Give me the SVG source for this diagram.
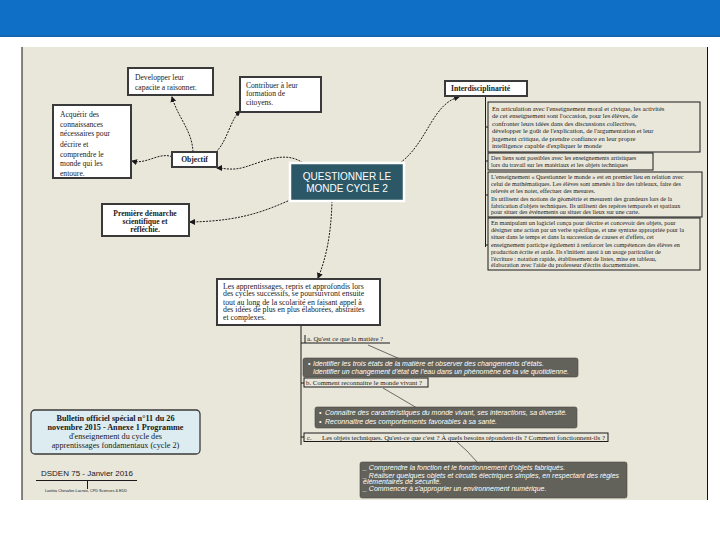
<svg xmlns="http://www.w3.org/2000/svg" width="720" height="540" viewBox="0 0 720 540">
<defs>
<marker id="arr" markerWidth="6" markerHeight="6" refX="5" refY="3" orient="auto" markerUnits="userSpaceOnUse"><path d="M0,0 L6,3 L0,6 z" fill="#1a1a1a"/></marker>
<style>
.box{fill:#fff;stroke:#3a3a3a;stroke-width:2}
.t{font-family:"Liberation Serif",serif;fill:#1a1a1a}
.b{font-weight:bold}
.rb{fill:none;stroke:#1a1a1a;stroke-width:1}
.gb{fill:#62625a;stroke:#4a4a44;stroke-width:0.6}
.gt{font-family:"Liberation Sans",sans-serif;font-style:italic;fill:#fff;font-size:7px}
.con{fill:none;stroke:#1a1a1a;stroke-width:1;stroke-dasharray:2 1.2;marker-end:url(#arr)}
.ln{fill:none;stroke:#1a1a1a;stroke-width:1}
.thin{fill:none;stroke:#333;stroke-width:0.7}
</style>
</defs>
<rect x="0" y="0" width="720" height="540" fill="#ffffff"/>
<rect x="0" y="0" width="720" height="36" fill="#0f6ec6"/>
<rect x="0" y="35" width="720" height="2" fill="#1466b0"/>
<rect x="22" y="47" width="686" height="453" fill="#e9e6da"/>
<line x1="22" y1="47" x2="22" y2="500" stroke="#111" stroke-width="1"/>
<line x1="707.5" y1="47" x2="707.5" y2="500" stroke="#111" stroke-width="1"/>

<g id="connectors">
<path class="con" d="M193,152 C192,130 178,118 172,97"/>
<path class="con" d="M216,152 C228,140 230,120 240,111"/>
<path class="con" d="M175,158 C160,150 148,165 132,161"/>
<path class="con" d="M303,163 C285,150 262,162 245,167 C232,171 224,168 217,168"/>
<path class="con" d="M400,163 C428,142 432,104 459,97"/>
<path class="con" d="M300,196 C272,207 250,221 190,222"/>
<path class="con" d="M332,201 C331,236 326,258 318,278"/>
<path class="ln" d="M485.5,97 V247"/>
<path class="ln" d="M485.5,127 H488 M485.5,161 H488 M485.5,195 H488 M485.5,245 H488"/>
<path class="ln" d="M301,325 V445 M301,343 H305 M301,383 H304 M301,437 H304"/>
<path class="thin" d="M368,345 L400,359"/>
<path class="thin" d="M383,388 L417,408"/>
<path class="thin" d="M457,442 L467,451 L477,462"/>
</g>

<g id="developper">
<rect class="box" x="128" y="68" width="85" height="27"/>
<text class="t" font-size="7.6" x="135" y="80">Developper leur</text>
<text class="t" font-size="7.6" x="135" y="89.5">capacite a raisonner.</text>
</g>

<g id="contribuer">
<rect class="box" x="240" y="77" width="81" height="35"/>
<text class="t" font-size="7.6" x="246" y="87.5">Contribuer à leur</text>
<text class="t" font-size="7.6" x="246" y="96">formation de</text>
<text class="t" font-size="7.6" x="246" y="104.5">citoyens.</text>
</g>

<g id="acquerir">
<rect class="box" x="53" y="105" width="78" height="73"/>
<text class="t" font-size="7.6" x="60" y="116.5">Acquérir des</text>
<text class="t" font-size="7.6" x="60" y="126.5">connaissances</text>
<text class="t" font-size="7.6" x="60" y="136">nécessaires pour</text>
<text class="t" font-size="7.6" x="60" y="146.5">décrire et</text>
<text class="t" font-size="7.6" x="60" y="156.5">comprendre le</text>
<text class="t" font-size="7.6" x="60" y="166">monde qui les</text>
<text class="t" font-size="7.6" x="60" y="175.5">entoure.</text>
</g>

<g id="objectif">
<rect class="box" x="172" y="152" width="45" height="15"/>
<text class="t b" font-size="7.6" x="194.5" y="162" text-anchor="middle">Objectif</text>
</g>

<g id="central">
<rect x="290" y="163" width="114" height="38" fill="#2b5766" stroke="#ffffff" stroke-width="2.5"/>
<text font-family="Liberation Sans, sans-serif" font-size="10" fill="#ffffff" x="347" y="180" text-anchor="middle">QUESTIONNER LE</text>
<text font-family="Liberation Sans, sans-serif" font-size="10" fill="#ffffff" x="347" y="192" text-anchor="middle">MONDE CYCLE 2</text>
</g>

<g id="premiere">
<rect class="box" x="102" y="204" width="87" height="32"/>
<text class="t b" font-size="7.6" x="145" y="215.5" text-anchor="middle">Première démarche</text>
<text class="t b" font-size="7.6" x="145" y="224" text-anchor="middle">scientifique et</text>
<text class="t b" font-size="7.6" x="145" y="232" text-anchor="middle">réfléchie.</text>
</g>

<g id="interdisciplinarite">
<rect class="box" x="445" y="81" width="82" height="15"/>
<text class="t b" font-size="7.6" x="451" y="91">Interdisciplinarité</text>
</g>

<g id="inter-box1">
<rect class="rb" x="488" y="102" width="212" height="50"/>
<text class="t" font-size="6.6" x="492" y="110.5">En articulation avec l'enseignement moral et civique, les activités</text>
<text class="t" font-size="6.6" x="492" y="118">de cet enseignement sont l'occasion, pour les élèves, de</text>
<text class="t" font-size="6.6" x="492" y="125.5">confronter leurs idées dans des discussions collectives,</text>
<text class="t" font-size="6.6" x="492" y="133">développer le goût de l'explication, de l'argumentation et leur</text>
<text class="t" font-size="6.6" x="492" y="140.5">jugement critique, de prendre confiance en leur propre</text>
<text class="t" font-size="6.6" x="492" y="148">intelligence capable d'expliquer le monde</text>
</g>

<g id="inter-box2">
<rect class="rb" x="488" y="153" width="165" height="17"/>
<text class="t" font-size="6.2" x="491" y="160">Des liens sont possibles avec les enseignements artistiques</text>
<text class="t" font-size="6.2" x="491" y="167">lors du travail sur les matériaux et les objets techniques</text>
</g>

<g id="inter-box3">
<rect class="rb" x="488" y="172" width="214" height="45"/>
<text class="t" font-size="6.2" x="491" y="179">L'enseignement « Questionner le monde » est en premier lieu en relation avec</text>
<text class="t" font-size="6.2" x="491" y="186">celui de mathématiques. Les élèves sont amenés à lire des tableaux, faire des</text>
<text class="t" font-size="6.2" x="491" y="193">relevés et les noter, effectuer des mesures.</text>
<text class="t" font-size="6.2" x="491" y="200.5">Ils utilisent des notions de géométrie et mesurent des grandeurs lors de la</text>
<text class="t" font-size="6.2" x="491" y="207.5">fabrication d'objets techniques. Ils utilisent des repères temporels et spatiaux</text>
<text class="t" font-size="6.2" x="491" y="214">pour situer des événements ou situer des lieux sur une carte.</text>
</g>

<g id="inter-box4">
<rect class="rb" x="488" y="218" width="212" height="52"/>
<text class="t" font-size="6.2" x="491" y="225">En manipulant un logiciel conçu pour décrire et concevoir des objets, pour</text>
<text class="t" font-size="6.2" x="491" y="232">désigner une action par un verbe spécifique, et une syntaxe appropriée pour la</text>
<text class="t" font-size="6.2" x="491" y="239">situer dans le temps et dans la succession de causes et d'effets, cet</text>
<text class="t" font-size="6.2" x="491" y="247">enseignement participe également à renforcer les compétences des élèves en</text>
<text class="t" font-size="6.2" x="491" y="254">production écrite et orale. Ils s'initient aussi à un usage particulier de</text>
<text class="t" font-size="6.2" x="491" y="260.5">l'écriture : notation rapide, établissement de listes, mise en tableau,</text>
<text class="t" font-size="6.2" x="491" y="267">élaboration avec l'aide du professeur d'écrits documentaires.</text>
</g>

<g id="apprentissages">
<rect class="box" x="217" y="279" width="163" height="46"/>
<text class="t" font-size="7.8" x="223" y="288.5">Les apprentissages, repris et approfondis lors</text>
<text class="t" font-size="7.8" x="223" y="296">des cycles successifs, se poursuivront ensuite</text>
<text class="t" font-size="7.8" x="223" y="304.5">tout au long de la scolarité en faisant appel à</text>
<text class="t" font-size="7.8" x="223" y="312">des idées de plus en plus élaborées, abstraites</text>
<text class="t" font-size="7.8" x="223" y="320">et complexes.</text>
</g>

<g id="label-a">
<path class="ln" d="M305,335 V343 H390"/>
<text class="t" font-size="6.8" x="307" y="340.5">a. Qu'est ce que la matière ?</text>
</g>

<g id="matiere">
<rect class="gb" x="303" y="358" width="275" height="19" rx="2"/>
<text class="gt" x="308" y="366">•</text>
<text class="gt" x="313" y="366">Identifier les trois états de la matière et observer des changements d'états.</text>
<text class="gt" x="313" y="374">Identifier un changement d'état de l'eau dans un phénomène de la vie quotidienne.</text>
</g>

<g id="label-b">
<rect class="rb" x="304" y="378" width="124" height="9"/>
<text class="t" font-size="6.8" x="306" y="385">b. Comment reconnaitre le monde vivant ?</text>
</g>

<g id="vivant">
<rect class="gb" x="315" y="407" width="262" height="21" rx="2"/>
<text class="gt" x="319" y="415">•</text>
<text class="gt" x="325" y="415">Connaître des caractéristiques du monde vivant, ses interactions, sa diversité.</text>
<text class="gt" x="319" y="424">•</text>
<text class="gt" x="325" y="424">Reconnaître des comportements favorables à sa santé.</text>
</g>

<g id="label-c">
<rect class="rb" x="304" y="433" width="304" height="8.5"/>
<text class="t" font-size="6.5" x="307" y="439.5">c.</text>
<text class="t" font-size="6.5" x="322" y="439.5" textLength="283" lengthAdjust="spacingAndGlyphs">Les objets techniques. Qu'est-ce que c'est ? À quels besoins répondent-ils ? Comment fonctionnent-ils ?</text>
</g>

<g id="objets">
<rect class="gb" x="360" y="462" width="267" height="36" rx="2"/>
<text class="gt" x="363" y="470">_ Comprendre la fonction et le fonctionnement d'objets fabriqués.</text>
<text class="gt" x="363" y="477.5">_ Réaliser quelques objets et circuits électriques simples, en respectant des règles</text>
<text class="gt" x="363" y="483.5">élémentaires de sécurité.</text>
<text class="gt" x="363" y="491">_ Commencer à s'approprier un environnement numérique.</text>
</g>

<g id="bulletin">
<rect x="31" y="410" width="169" height="44" rx="4" fill="#dcecf1" stroke="#3a3a3a" stroke-width="1.3"/>
<text class="t b" font-size="8.2" x="115.5" y="420.5" text-anchor="middle">Bulletin officiel spécial n°11 du 26</text>
<text class="t b" font-size="8.2" x="115.5" y="429.5" text-anchor="middle">novembre 2015 - Annexe 1 Programme</text>
<text class="t" font-size="8.2" x="115.5" y="438.5" text-anchor="middle">d'enseignement du cycle des</text>
<text class="t" font-size="8.2" x="115.5" y="447.5" text-anchor="middle">apprentissages fondamentaux (cycle 2)</text>
</g>

<g id="dsden">
<text font-family="Liberation Sans, sans-serif" font-size="8" fill="#1a1a1a" x="87" y="476" text-anchor="middle">DSDEN 75 - Janvier 2016</text>
<path class="ln" d="M36,480.5 H137 M87.5,480.5 V489"/>
<text font-family="Liberation Sans, sans-serif" font-size="3.8" fill="#1a1a1a" x="86" y="492" text-anchor="middle">Laetitia Chevalier-Lacroix, CPD Sciences &amp; EDD</text>
</g>
</svg>
